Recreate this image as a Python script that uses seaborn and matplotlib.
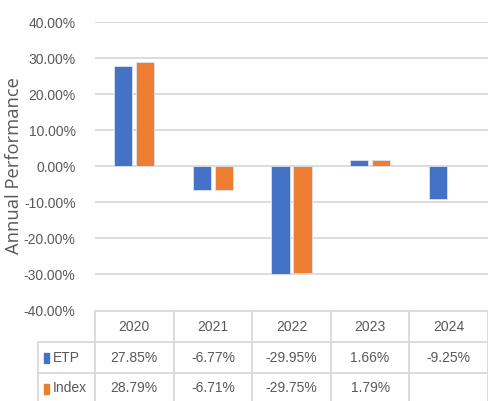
import numpy as np
import pandas as pd
import matplotlib.pyplot as plt
import matplotlib.transforms as mtransforms
from matplotlib.ticker import FuncFormatter
import seaborn as sns

###################################################################
# data
###################################################################

years = ['2020', '2021', '2022', '2023', '2024']
etp = [27.85, -6.77, -29.95, 1.66, -9.25]
index = [28.79, -6.71, -29.75, 1.79, np.nan]
series = ['ETP', 'Index']
colors = ['#4472C4', '#ED7D31']

df = pd.DataFrame({
    'year': years * 2,
    'value': etp + index,
    'series': [series[0]] * len(years) + [series[1]] * len(years),
})

###################################################################
# plot
###################################################################

sns.set_style('white')
plt.rcParams['font.family'] = ['Liberation Sans', 'DejaVu Sans']
txt = '#595959'
grid = '#D9D9D9'
fs = 10

W, H = 488, 401
fig = plt.figure(figsize=(W / 100, H / 100), dpi=100)

# bar area in pixels: x 95..488, y 22..310
ax = fig.add_axes([95 / W, 1 - 310 / H, 393 / W, 288 / H])
sns.barplot(data=df, x='year', y='value', hue='series', palette=colors,
            saturation=1, width=0.56, gap=0.18, legend=False, ax=ax,
            edgecolor='#DCE3F0', linewidth=0.6)
ax.set_ylim(-40, 40)
ax.set_xlim(-0.5, len(years) - 0.5)
ax.set_yticks(np.arange(-40, 41, 10))
ax.yaxis.set_major_formatter(FuncFormatter(lambda v, p: f'{v:.2f}%'))
ax.tick_params(axis='y', length=0, labelsize=fs, labelcolor=txt, pad=14)
ax.set_xticks([])
ax.set_xlabel('')
ax.set_ylabel('Annual Performance', fontsize=13.2, color=txt,
              family=['Open Sans', 'DejaVu Sans'])
ax.yaxis.set_label_coords(-72 / 393, 0.5)
for s in ax.spines.values():
    s.set_visible(False)
for v in range(-30, 41, 10):
    ax.axhline(v, color=grid, lw=1.3, zorder=0)

# data table under the bars: x in category units, y in pixels
tax = fig.add_axes([0, 0, 1, 1])
tax.set_xlim(0, W)
tax.set_ylim(H, 0)
tax.axis('off')
tr = mtransforms.blended_transform_factory(ax.transData, tax.transData)

n = len(years)
row_tops = [311, 342, 373, 404]
tax.plot([95, W], [row_tops[0]] * 2, color=grid, lw=1.3)
for y in row_tops[1:]:
    tax.plot([38, W], [y, y], color=grid, lw=1.3)
tax.plot([38, 38], [row_tops[1], row_tops[3]], color=grid, lw=1.3)
for i in range(n + 1):
    tax.plot([i - 0.5, i - 0.5], [row_tops[0], row_tops[3]], color=grid,
             lw=1.3, transform=tr)

for i, yr in enumerate(years):
    tax.text(i, 327, yr, ha='center', va='center', fontsize=fs,
             color=txt, transform=tr)
for r, (name, vals, c) in enumerate(zip(series, [etp, index], colors)):
    yc = (row_tops[r + 1] + row_tops[r + 2]) / 2
    tax.add_patch(plt.Rectangle((44, yc - 5), 5, 10, color=c))
    tax.text(53, yc, name, ha='left', va='center', fontsize=fs, color=txt)
    for i, v in enumerate(vals):
        if not np.isnan(v):
            tax.text(i, yc, f'{v:.2f}%', ha='center', va='center',
                     fontsize=fs, color=txt, transform=tr)

fig.savefig('out.png', dpi=100)
